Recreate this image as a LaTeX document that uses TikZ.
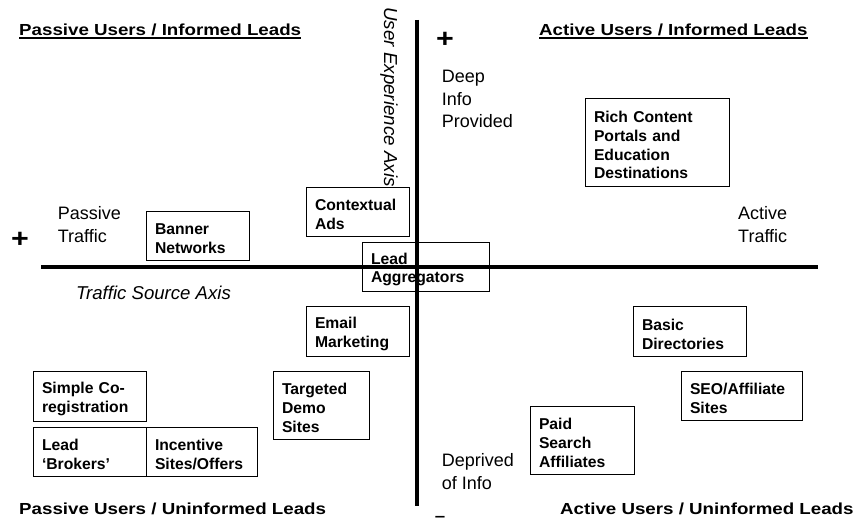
\documentclass[tikz,border=0pt]{standalone}
\usepackage{fontspec}
\setmainfont{Liberation Sans}
\newfontfamily\headfont{Liberation Sans}[FakeStretch=1.17]
\begin{document}
\begin{tikzpicture}[x=1pt,y=-1pt,
    cell/.style={draw, line width=0.9pt, fill=white, align=left,
      inner xsep=9pt, inner ysep=0pt,
      font=\bfseries\fontsize{15.7}{18.7}\selectfont,
      execute at begin node={\rule{0pt}{17.5pt}}},
    lbl/.style={inner sep=0pt, align=left, anchor=west},
    head/.style={inner sep=0pt, anchor=base west,
      font=\headfont\bfseries\fontsize{16}{19}\selectfont},
    sign/.style={inner sep=0pt, font=\headfont\bfseries\fontsize{26}{26}\selectfont},
    axis/.style={line width=4pt}]
  \useasboundingbox (0,0) rectangle (865,519);

  % quadrant headings
  \node[head] (pil) at (19,35.5) {Passive Users / Informed Leads};
  \node[head] (ail) at (539,35.5) {Active Users / Informed Leads};
  \node[head] (pul) at (19,514) {Passive Users / Uninformed Leads};
  \node[head] (aul) at (560,514) {Active Users / Uninformed Leads};
  \draw[line width=1.4pt] ([yshift=-2.5pt]pil.base west) -- ([yshift=-2.5pt]pil.base east);
  \draw[line width=1.4pt] ([yshift=-2.5pt]ail.base west) -- ([yshift=-2.5pt]ail.base east);

  % lead sources
  \node[cell, text width=85pt, minimum height=49pt] (banner) at (197.5,235.5) {Banner\\Networks};
  \node[cell, text width=85pt, minimum height=49pt] (contextual) at (357.5,211.5) {Contextual\\Ads};
  \node[cell, text width=109pt, minimum height=49pt] (aggregators) at (425.5,266.5) {Lead\\Aggregators};
  \node[cell, text width=126pt, minimum height=88pt] (portals) at (657,142) {Rich Content\\Portals and\\Education\\Destinations};
  \node[cell, text width=85pt, minimum height=50pt] (email) at (357.5,331) {Email\\Marketing};
  \node[cell, text width=78pt, minimum height=68pt] (demo) at (321,405) {Targeted\\Demo\\Sites};
  \node[cell, text width=95pt, minimum height=50pt] (coreg) at (89.5,396) {Simple Co-\\registration};
  \node[cell, text width=95pt, minimum height=49pt] (brokers) at (89.5,451.5) {Lead\\`Brokers'};
  \node[cell, text width=93pt, minimum height=49pt] (incentive) at (201.5,451.5) {Incentive\\Sites/Offers};
  \node[cell, text width=95pt, minimum height=50pt] (directories) at (689.5,331) {Basic\\Directories};
  \node[cell, text width=103pt, minimum height=49pt] (seo) at (741.5,395.5) {SEO/Affiliate\\Sites};
  \node[cell, text width=86pt, minimum height=68pt] (paid) at (582,440) {Paid\\Search\\Affiliates};

  % axes
  \coordinate (uxtop) at (417,20);
  \coordinate (uxbot) at (417,506);
  \coordinate (tsleft) at (41,267);
  \coordinate (tsright) at (818,267);
  \draw[axis] (uxtop) -- (uxbot);
  \draw[axis] (tsleft) -- (tsright);

  % axis labels
  \node[rotate=-90, anchor=base west, inner sep=0pt,
    font=\itshape\fontsize{18.8}{18.8}\selectfont] (uxaxis) at (384,7) {User Experience Axis};
  \node[anchor=base west, inner sep=0pt,
    font=\itshape\fontsize{18.6}{18.6}\selectfont] (tsaxis) at (76,299.5) {Traffic Source Axis};
  \node[lbl, font=\fontsize{18}{22.5}\selectfont] (deep) at (441.6,99) {Deep\\Info\\Provided};
  \node[lbl, font=\fontsize{18}{23.5}\selectfont] (deprived) at (441.6,471.5) {Deprived\\of Info};
  \node[lbl, font=\fontsize{18}{23.7}\selectfont] (passive) at (57.6,224.5) {Passive\\Traffic};
  \node[lbl, font=\fontsize{18}{23.7}\selectfont] (active) at (738,224.5) {Active\\Traffic};

  % ends of the axes
  \node[sign] (plustop) at (445,40) {+};
  \node[sign] (plusleft) at (20,240) {+};
  \node[sign, anchor=north, font=\headfont\bfseries\fontsize{16}{16}\selectfont] (minusbot) at (440,516.5) {–};
\end{tikzpicture}
\end{document}
